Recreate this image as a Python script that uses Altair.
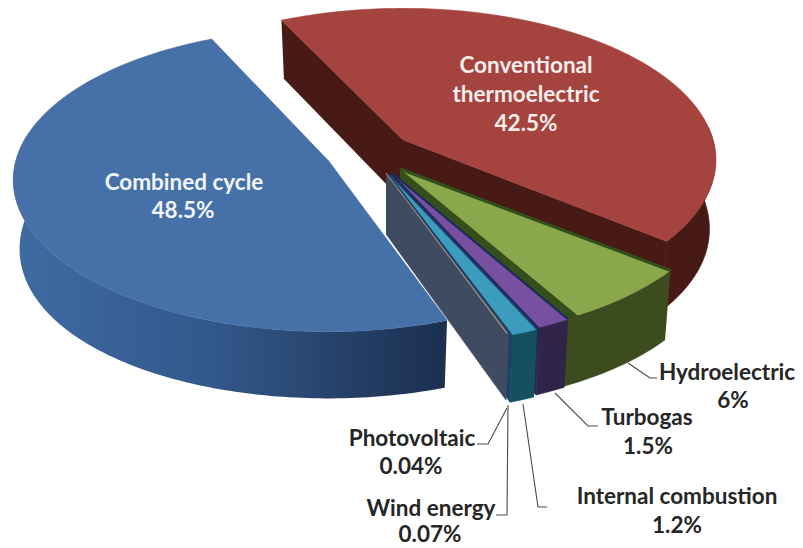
import math
import altair as alt
import pandas as pd

# ---- values
slices = ["Conventional thermoelectric", "Hydroelectric", "Turbogas", "Internal combustion",
          "Wind energy", "Photovoltaic", "Combined cycle"]
shares = [42.5, 6, 1.5, 1.2, 0.07, 0.04, 48.5]

label_lines = [
    ("Conventional", 526, 66, "#F6EDEC"), ("thermoelectric", 526, 95, "#F6EDEC"), ("42.5%", 526, 124, "#F6EDEC"),
    ("Combined cycle", 184, 183, "#F2F6FB"), ("48.5%", 183, 211, "#F2F6FB"),
    ("Hydroelectric", 727, 373, "#262626"), ("6%", 733, 401, "#262626"),
    ("Turbogas", 647, 418, "#262626"), ("1.5%", 648, 447, "#262626"),
    ("Internal combustion", 677, 497, "#262626"), ("1.2%", 677, 526, "#262626"),
    ("Photovoltaic", 412, 439, "#262626"), ("0.04%", 411, 467, "#262626"),
    ("Wind energy", 431, 509, "#262626"), ("0.07%", 430, 535, "#262626"),
]
leaders = [
    [(628, 363), (650, 378), (657, 378)],
    [(555, 393), (588, 426), (598, 426)],
    [(523, 404), (538, 507), (547, 507)],
    [(508, 405), (507, 515), (496, 515)],
    [(507, 408), (488, 444), (477, 444)],
]

# ---- styling of the tilted pie
top_colors = {"Conventional thermoelectric": "#A5433F", "Hydroelectric": "#8AA74B", "Turbogas": "#7750A1",
              "Internal combustion": "#3C9CBB", "Wind energy": "#3F4B60", "Photovoltaic": "#A89A80",
              "Combined cycle": "#4570A8"}
side_colors = {"Conventional thermoelectric": "#481A16", "Hydroelectric": "#3C4C1E", "Turbogas": "#302548",
               "Internal combustion": "#14505F", "Wind energy": "#3F4B60", "Photovoltaic": "#3F4B60"}
apex = {"Conventional thermoelectric": (403, 140), "Hydroelectric": (400, 169), "Turbogas": (392, 173),
        "Internal combustion": (390, 175), "Wind energy": (386, 173), "Photovoltaic": (386, 173),
        "Combined cycle": (328, 160)}
radius_x = {"Conventional thermoelectric": 310, "Hydroelectric": 318, "Turbogas": 315,
            "Internal combustion": 315, "Wind energy": 315, "Photovoltaic": 315, "Combined cycle": 312}
START, RED_EDGE, RY, P, DEPTH, SHRINK = 335.4, 1.4, 149, 0.1316, 61, 0.98

total = sum(shares)
spans = {}
a = START
for name, v in zip(slices, shares):
    b = a + v / total * 360
    spans[name] = (a, b)
    a = b
spans[slices[0]] = (START - RED_EDGE, spans[slices[0]][1])


def rim_pt(name, deg, low=False):
    t = math.radians(deg)
    X, Y = math.sin(t), math.cos(t)
    s = 1 / (1 + P * Y)
    ax, ay = apex[name]
    x, y = radius_x[name] * X * s, -RY * Y * s
    if low:
        return ax + SHRINK * x, ay + SHRINK * y + DEPTH * s * (1 + 0.12 * X * X)
    return ax + x, ay + y


def arc(name, d0, d1, low=False):
    n = max(2, int(abs(d1 - d0)) + 2)
    return [rim_pt(name, d0 + (d1 - d0) * i / (n - 1), low) for i in range(n)]


def wedge(name):
    d0, d1 = spans[name]
    return [apex[name]] + arc(name, d0, d1)


def rim(name, d0=None, d1=None):
    s0, s1 = spans[name]
    d0 = s0 if d0 is None else d0
    d1 = s1 if d1 is None else d1
    return arc(name, d0, d1) + arc(name, d1, d0, True)


def low_apex(name):
    ax, ay = apex[name]
    return ax, ay + DEPTH


def wall(name, deg):
    return [apex[name], rim_pt(name, deg), rim_pt(name, deg, True), low_apex(name)]


xs = alt.Scale(domain=[8, 795], range=[0, 787], nice=False, zero=False)
ys = alt.Scale(domain=[8, 548], range=[0, 540], nice=False, zero=False)


def shape(pts, fill, stroke=None, sw=0.6):
    df = pd.DataFrame({"x": [p[0] for p in pts], "y": [p[1] for p in pts], "i": range(len(pts))})
    return alt.Chart(df).mark_line(fill=fill, stroke=stroke or (fill if isinstance(fill, str) else "#2A4468"),
                                   strokeWidth=sw).encode(
        x=alt.X("x:Q", scale=xs, axis=None),
        y=alt.Y("y:Q", scale=ys, axis=None),
        order=alt.Order("i:Q"),
    )


def stroke_line(pts, color, sw):
    df = pd.DataFrame({"x": [p[0] for p in pts], "y": [p[1] for p in pts], "i": range(len(pts))})
    return alt.Chart(df).mark_line(stroke=color, strokeWidth=sw).encode(
        x=alt.X("x:Q", scale=xs, axis=None),
        y=alt.Y("y:Q", scale=ys, axis=None),
        order=alt.Order("i:Q"),
    )


RED, GREEN, PURPLE, TEAL, WIND, PV, BLUE = slices
layers = []

# Conventional thermoelectric: walls, rim, top
r0, r1 = spans[RED]
layers.append(shape([rim_pt(RED, r0), apex[RED], low_apex(RED), rim_pt(RED, r0, True)], side_colors[RED]))
layers.append(shape(wall(RED, r1), side_colors[RED]))
layers.append(shape(rim(RED, 445, r1), side_colors[RED]))
layers.append(shape(wedge(RED), top_colors[RED]))

# inner walls that show between the small slices
layers.append(shape(wall(GREEN, spans[GREEN][1]), "#34501A"))
layers.append(shape(wall(PURPLE, spans[PURPLE][1]), "#1E2A5C"))
layers.append(shape(wall(TEAL, spans[TEAL][1]), "#20406A"))

# wall under the thin slices
layers.append(shape(wall(WIND, spans[WIND][0]), side_colors[WIND]))

# Combined cycle
blue_side = alt.LinearGradient(
    gradient="linear", x1=0, x2=1, y1=0, y2=0,
    stops=[alt.GradientStop(color="#3F6BA3", offset=0), alt.GradientStop(color="#33588C", offset=0.45),
           alt.GradientStop(color="#1B2F4E", offset=1)],
)
b0, b1 = spans[BLUE]
layers.append(shape(rim(BLUE, b0, 640), blue_side, stroke="#2F5080", sw=0))
layers.append(shape(wedge(BLUE), top_colors[BLUE]))

# the small slices
layers.append(shape(rim(GREEN, spans[GREEN][0], spans[GREEN][1] + 2), side_colors[GREEN]))
layers.append(shape(rim(PURPLE), side_colors[PURPLE]))
layers.append(shape(rim(TEAL), side_colors[TEAL]))
for name in (GREEN, PURPLE, TEAL):
    layers.append(shape(wedge(name), top_colors[name]))
    d0 = spans[name][0]
    edge_col = {GREEN: "#34501A", PURPLE: "#1E2A5C", TEAL: "#20406A"}[name]
    layers.append(stroke_line([apex[name], rim_pt(name, d0)], edge_col, {GREEN: 3, PURPLE: 2.2, TEAL: 1.5}[name]))

layers.append(shape(wedge(PV), top_colors[PV], sw=1))

# leader lines
for ln in leaders:
    layers.append(stroke_line(ln, "#4A4A4A", 1.1))

# labels
lab = pd.DataFrame(label_lines, columns=["text", "x", "y", "color"])
layers.append(
    alt.Chart(lab).mark_text(font="Lato", fontWeight="bold", fontSize=22.5, align="center", baseline="middle").encode(
        x=alt.X("x:Q", scale=xs, axis=None),
        y=alt.Y("y:Q", scale=ys, axis=None),
        text="text:N",
        color=alt.Color("color:N", scale=None),
    )
)

chart = alt.layer(*layers).properties(
    width=787, height=540, padding=0, autosize=alt.AutoSizeParams(type="none"),
    background="white",
).configure_view(stroke=None)

chart.save("out.html", embed_options={"renderer": "svg", "actions": False})
